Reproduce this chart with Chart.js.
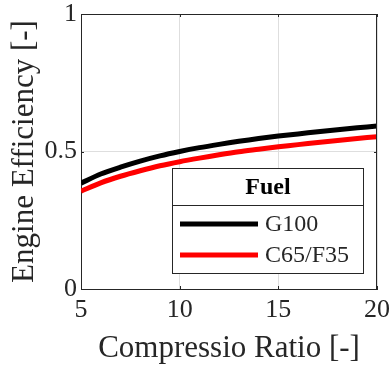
<!DOCTYPE html>
<html>
<head>
<meta charset="utf-8">
<script src="https://cdn.jsdelivr.net/npm/chart.js@4"></script>
<style>
  html, body { margin: 0; padding: 0; background: #fff; }
  #wrap { width: 391px; height: 369px; }
</style>
</head>
<body>
<div id="wrap"><canvas id="effChart" width="391" height="369"></canvas></div>
<script>
// compression ratio
const ratios = [5, 6, 7, 8, 9, 10, 11, 12, 13, 14, 15, 16, 17, 18, 19, 20];
// efficiency
const g100 = [0.385, 0.418, 0.443, 0.465, 0.484, 0.500, 0.514, 0.526, 0.537, 0.547, 0.556, 0.564, 0.572, 0.579, 0.586, 0.593];
const c65f35 = [0.356, 0.386, 0.410, 0.430, 0.448, 0.463, 0.476, 0.488, 0.499, 0.508, 0.517, 0.525, 0.533, 0.540, 0.547, 0.554];
const seriesNames = ['G100', 'C65/F35'];
const seriesColors = ['#000000', '#ff0000'];
const xTicks = [5, 10, 15, 20];
const yTicks = [0, 0.5, 1];

const serif = "'Liberation Serif', 'DejaVu Serif', serif";
const textColor = '#262626';

function toPts(ys) {
  return ratios.map(function(x, i) { return { x: x, y: ys[i] }; });
}

// inner tick marks + box legend, matlab style
const matlabBits = {
  id: 'matlabBits',
  afterDraw: function(chart) {
    const ctx = chart.ctx;
    const a = chart.chartArea;
    const xs = chart.scales.x, ys = chart.scales.y;
    ctx.save();
    ctx.strokeStyle = '#262626';
    ctx.lineWidth = 1;
    ctx.beginPath();
    xTicks.forEach(function(t) {
      const px = Math.round(xs.getPixelForValue(t)) + 0.5;
      ctx.moveTo(px, a.bottom); ctx.lineTo(px, a.bottom - 3);
      ctx.moveTo(px, a.top); ctx.lineTo(px, a.top + 3);
    });
    yTicks.forEach(function(t) {
      const py = Math.round(ys.getPixelForValue(t)) + 0.5;
      ctx.moveTo(a.left, py); ctx.lineTo(a.left + 3, py);
      ctx.moveTo(a.right, py); ctx.lineTo(a.right - 3, py);
    });
    ctx.stroke();
    // top and right edges of the box
    ctx.beginPath();
    ctx.moveTo(a.left, a.top + 0.5); ctx.lineTo(a.right, a.top + 0.5);
    ctx.moveTo(a.right - 0.5, a.top); ctx.lineTo(a.right - 0.5, a.bottom);
    ctx.stroke();

    // legend box
    const bx = 172.5, by = 168.5, bw = 191, bh = 105, sep = 205.5;
    ctx.fillStyle = '#fff';
    ctx.fillRect(bx, by, bw, bh);
    ctx.strokeStyle = '#262626';
    ctx.strokeRect(bx, by, bw, bh);
    ctx.beginPath();
    ctx.moveTo(bx, sep); ctx.lineTo(bx + bw, sep);
    ctx.stroke();
    ctx.fillStyle = '#000';
    ctx.font = 'bold 24px ' + serif;
    ctx.textAlign = 'center';
    ctx.textBaseline = 'middle';
    ctx.fillText('Fuel', bx + bw / 2, 188);
    ctx.textAlign = 'left';
    ctx.font = '24px ' + serif;
    const rows = [224, 255];
    seriesNames.forEach(function(name, i) {
      ctx.strokeStyle = seriesColors[i];
      ctx.lineWidth = 5;
      ctx.beginPath();
      ctx.moveTo(180, rows[i]); ctx.lineTo(258, rows[i]);
      ctx.stroke();
      ctx.fillStyle = textColor;
      ctx.fillText(name, 265, rows[i] + 1);
    });
    ctx.restore();
  }
};

const effChart = new Chart(document.getElementById('effChart').getContext('2d'), {
  type: 'line',
  data: {
    datasets: [
      { label: seriesNames[0], data: toPts(g100), borderColor: seriesColors[0], borderWidth: 5, pointRadius: 0, tension: 0.3, fill: false },
      { label: seriesNames[1], data: toPts(c65f35), borderColor: seriesColors[1], borderWidth: 5, pointRadius: 0, tension: 0.3, fill: false }
    ]
  },
  options: {
    responsive: false,
    animation: false,
    layout: { padding: { top: 14, right: 14, left: 0, bottom: 0 } },
    plugins: { legend: { display: false }, tooltip: { enabled: false } },
    scales: {
      x: {
        type: 'linear', min: 5, max: 20,
        afterBuildTicks: function(s) { s.ticks = xTicks.map(function(v) { return { value: v }; }); },
        afterFit: function(s) { s.height = 80; s.paddingLeft = 0; s.paddingRight = 0; },
        grid: { color: '#dedede', drawTicks: false },
        border: { color: '#262626', width: 1 },
        ticks: { color: textColor, font: { family: serif, size: 26 }, padding: 6, maxRotation: 0 },
        title: { display: true, text: 'Compressio Ratio [-]', color: textColor, font: { family: serif, size: 31 }, padding: { top: 0, bottom: 2 } }
      },
      y: {
        type: 'linear', min: 0, max: 1,
        afterBuildTicks: function(s) { s.ticks = yTicks.map(function(v) { return { value: v }; }); },
        afterFit: function(s) { s.width = 81; s.paddingTop = 0; s.paddingBottom = 0; },
        grid: { color: '#dedede', drawTicks: false },
        border: { color: '#262626', width: 1 },
        ticks: { color: textColor, font: { family: serif, size: 26 }, padding: 4, callback: function(v) { return String(v); } },
        title: { display: true, text: 'Engine Efficiency [-]', color: textColor, font: { family: serif, size: 31 }, padding: { top: 6, bottom: 0 } }
      }
    }
  },
  plugins: [matlabBits]
});
</script>
</body>
</html>
